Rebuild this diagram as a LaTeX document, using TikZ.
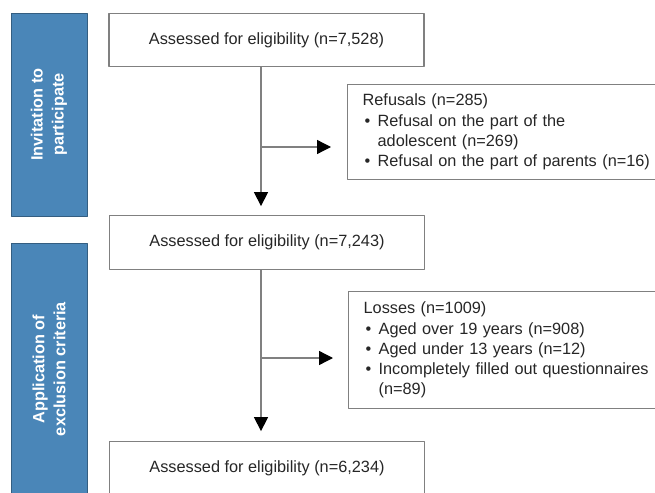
\documentclass[tikz,border=0pt]{standalone}
\usepackage{fontspec}
\setmainfont{Liberation Sans}
\usetikzlibrary{arrows.meta}
\definecolor{stageblue}{HTML}{4A86B8}
\newcommand{\bitem}{\makebox[15pt][l]{\hspace{2pt}\textbullet}}
\newcommand{\bcont}{\hspace*{15pt}}
\begin{document}
\begin{tikzpicture}[x=1pt, y=-1pt, font=\fontsize{16.3}{20.3}\selectfont, line join=round,
	box/.style={draw=gray, line width=1.3pt, minimum width=315pt, minimum height=53.5pt, inner sep=0pt, text=black!85},
	sidebox/.style={draw=gray, line width=1.3pt, anchor=north west, align=left, text width=300pt, inner xsep=15pt, inner ysep=0pt, text=black!85},
	stage/.style={fill=stageblue, draw=stageblue!70!black, line width=0.8pt, rotate=90, minimum height=76pt, inner sep=0pt, text=white, align=center, font=\fontsize{16.3}{21}\selectfont\bfseries},
	flow/.style={draw=gray, line width=1.3pt, -{Triangle[length=14pt, width=14pt, color=black]}}]
	\useasboundingbox (0,0) rectangle (655,492);
	\node[stage, minimum width=203pt] (invite) at (49,114.5) {Invitation to\\participate};
	\node[stage, minimum width=252pt] (exclude) at (49,369) {Application of\\exclusion criteria};
	\node[box] (assess1) at (266.5,40) {Assessed for eligibility (n=7,528)};
	\node[box] (assess2) at (267,242.5) {Assessed for eligibility (n=7,243)};
	\node[box] (assess3) at (267,468.5) {Assessed for eligibility (n=6,234)};
	\node[sidebox, minimum height=95pt] (refusals) at (347,84) {Refusals (n=285)\\
		\bitem Refusal on the part of the\\
		\bcont adolescent (n=269)\\
		\bitem Refusal on the part of parents (n=16)};
	\node[sidebox, minimum height=117pt] (losses) at (348,291) {Losses (n=1009)\\
		\bitem Aged over 19 years (n=908)\\
		\bitem Aged under 13 years (n=12)\\
		\bitem Incompletely filled out questionnaires\\
		\bcont (n=89)};
	\coordinate (fork1) at (261,147);
	\coordinate (fork2) at (261,358);
	\draw[flow, shorten >=9pt] (assess1.south -| fork1) -- (assess2.north -| fork1);
	\draw[flow, shorten >=10pt] (assess2.south -| fork2) -- (assess3.north -| fork2);
	\draw[flow, shorten >=16pt] (fork1) -- (fork1 -| refusals.west);
	\draw[flow, shorten >=15pt] (fork2) -- (fork2 -| losses.west);
\end{tikzpicture}
\end{document}
